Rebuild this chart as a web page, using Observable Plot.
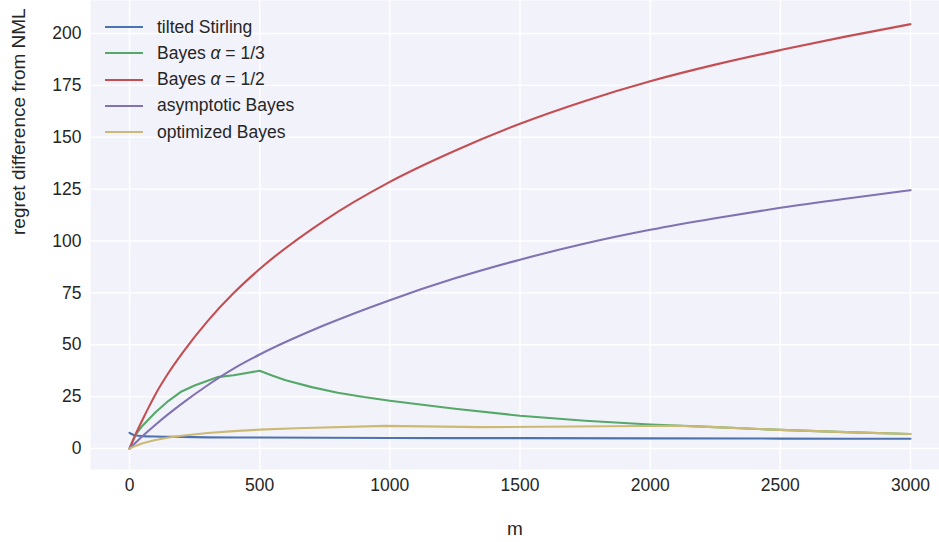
<!DOCTYPE html>
<html><head><meta charset="utf-8">
<script src="https://cdn.jsdelivr.net/npm/d3@7"></script>
<script src="https://cdn.jsdelivr.net/npm/@observablehq/plot@0.6"></script>
<style>
body{margin:0;background:#fff;overflow:hidden}
#wrap{position:relative;width:939px;height:542px}
#legend{position:absolute;left:105px;top:13.9px;font:17.5px "Liberation Sans",Arial,sans-serif;color:#262626}
.row{display:flex;align-items:center;height:26.3px;white-space:nowrap}
.sw{width:38px;height:2px;margin-right:14px}
</style></head><body><div id="wrap"><div id="legend"></div></div>
<script>
// ---- data ----
const seriesNames = ["tilted Stirling", "Bayes α = 1/3", "Bayes α = 1/2", "asymptotic Bayes", "optimized Bayes"];
const legendLabels = ["tilted Stirling", "Bayes <i>α</i> = 1/3", "Bayes <i>α</i> = 1/2", "asymptotic Bayes", "optimized Bayes"];
const seriesColors = ["#4C72B0", "#55A868", "#C44E52", "#8172B2", "#CCB974"];

const stirlingM = [0, 10, 25, 50, 100, 200, 300, 500, 1000, 1500, 2000, 2500, 3000];
const stirlingV = [7.6, 6.9, 6.3, 6.0, 5.8, 5.6, 5.4, 5.3, 5.1, 5.0, 4.9, 4.8, 4.7];

const bayes13M = [0, 25, 50, 100, 150, 200, 250, 337, 400, 500, 550, 600, 700, 800, 900, 1000, 1250, 1500, 1750, 2000, 2250, 2500, 2750, 3000];
const bayes13V = [0, 7, 11, 17.5, 23, 27.5, 30.4, 34.4, 35.3, 37.5, 35.1, 32.9, 29.6, 26.9, 24.8, 23, 19.2, 15.8, 13.4, 11.6, 10.3, 9.0, 7.9, 7.0];

const bayes12M = [0, 25, 50, 75, 100, 150, 200, 300, 400, 500, 750, 1000, 1250, 1500, 1750, 2000, 2250, 2500, 2750, 3000];
const bayes12V = [0, 7.3, 13.9, 20.2, 26.2, 36.5, 45.5, 61.4, 74.9, 86.5, 110, 128.5, 143.5, 156.5, 167.5, 177, 185, 192, 198.5, 204.5];

const asymM = [0, 25, 50, 100, 200, 300, 400, 500, 750, 1000, 1250, 1500, 1750, 2000, 2250, 2500, 2750, 3000];
const asymV = [0, 3, 6, 11.5, 21.5, 30.5, 38.5, 45.3, 59.5, 71.5, 82, 91, 98.8, 105.4, 111, 116, 120.4, 124.5];

const optM = [0, 25, 50, 100, 150, 200, 300, 400, 500, 640, 980, 1350, 2100, 2250, 2500, 2750, 3000];
const optV = [0, 1.4, 2.5, 4.1, 5.3, 6.2, 7.5, 8.4, 9.1, 9.8, 10.9, 10.3, 11.0, 10.3, 9.0, 7.9, 7.0];

const xTicks = [0, 500, 1000, 1500, 2000, 2500, 3000];
const yTicks = [0, 25, 50, 75, 100, 125, 150, 175, 200];
const xLabel = "m";
const yLabel = "regret difference from NML";

// ---- build ----
const toRows = (ms, vs) => ms.map((m, i) => ({m, v: vs[i]}));
const series = [
  {rows: toRows(stirlingM, stirlingV), curve: "monotone-x"},
  {rows: toRows(bayes13M, bayes13V), curve: "linear"},
  {rows: toRows(bayes12M, bayes12V), curve: "monotone-x"},
  {rows: toRows(asymM, asymV), curve: "monotone-x"},
  {rows: toRows(optM, optV), curve: "linear"}
];

const font = '"Liberation Sans", Arial, sans-serif';
const fmt = d3.format("d");
const chart = Plot.plot({
  width: 939,
  height: 542,
  marginLeft: 90,
  marginRight: 0,
  marginTop: 0,
  marginBottom: 73,
  style: {fontFamily: font, fontSize: "17.5px", color: "#262626", background: "white"},
  x: {domain: [-149.8, 3111.4], ticks: xTicks},
  y: {domain: [-10.1, 215.9], ticks: yTicks},
  marks: [
    Plot.frame({fill: "#f2f2fb", stroke: null}),
    Plot.gridX(xTicks, {stroke: "white", strokeOpacity: 1, strokeWidth: 1.4}),
    Plot.gridY(yTicks, {stroke: "white", strokeOpacity: 1, strokeWidth: 1.4}),
    Plot.axisX(xTicks, {tickSize: 0, tickPadding: 9, label: null, fontSize: 17.5, tickFormat: fmt}),
    Plot.axisY(yTicks, {tickSize: 0, tickPadding: 9, label: null, fontSize: 17.5, tickFormat: fmt}),
    ...series.map((s, i) => Plot.line(s.rows, {x: "m", y: "v", stroke: seriesColors[i], strokeWidth: 2.1, curve: s.curve})),
    Plot.text([xLabel], {frameAnchor: "bottom", dy: 59, text: d => d, fontSize: 19, lineAnchor: "middle", fill: "#262626"}),
    Plot.text([yLabel], {frameAnchor: "left", dx: -72, rotate: -90, text: d => d, fontSize: 19, lineAnchor: "middle", fill: "#262626"})
  ]
});
const wrap = document.getElementById("wrap");
wrap.insertBefore(chart, wrap.firstChild);

const legend = document.getElementById("legend");
seriesNames.forEach((name, i) => {
  const row = document.createElement("div");
  row.className = "row";
  row.innerHTML = `<span class="sw" style="background:${seriesColors[i]}"></span><span>${legendLabels[i]}</span>`;
  legend.appendChild(row);
});
</script></body></html>
